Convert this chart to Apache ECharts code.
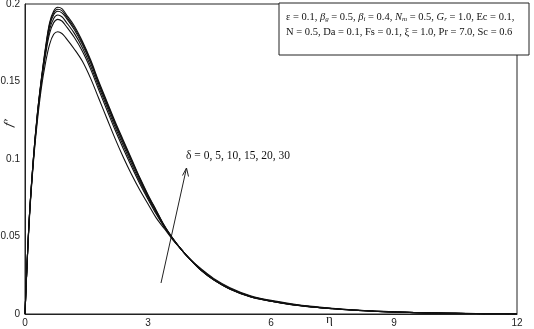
<!DOCTYPE html>
<html><head><meta charset="utf-8">
<script src="https://cdn.jsdelivr.net/npm/echarts@6/dist/echarts.min.js"></script>
<style>html,body{margin:0;padding:0;background:#fff}#c{width:534px;height:329px}</style>
</head><body><div id="c"></div>
<script>
var eta = [0,0.1,0.2,0.3,0.4,0.5,0.6,0.7,0.8,0.9,1.0,1.2,1.4,1.6,1.8,2.0,2.2,2.4,2.6,2.8,3.0,3.2,3.4,3.6,3.8,4.0,4.3,4.6,5.0,5.5,6.0,6.5,7.0,7.5,8.0,8.5,9.0,9.5,10,10.5,11,11.5,12];
var delta0  = [0,0.058,0.096,0.124,0.146,0.162,0.174,0.1805,0.1821,0.181,0.178,0.171,0.163,0.152,0.139,0.126,0.113,0.101,0.090,0.080,0.071,0.062,0.055,0.048,0.042,0.036,0.029,0.023,0.017,0.0118,0.0088,0.0066,0.0049,0.0037,0.0027,0.0020,0.0014,0.0010,0.0007,0.0005,0.0003,0.0002,0.0001];
var delta5  = [0,0.059,0.0975,0.1265,0.149,0.167,0.181,0.188,0.1901,0.189,0.1858,0.1785,0.1695,0.158,0.1445,0.1315,0.1185,0.1065,0.095,0.084,0.074,0.0645,0.056,0.0485,0.042,0.036,0.0285,0.0225,0.0165,0.0114,0.0085,0.0063,0.0047,0.0035,0.0026,0.0019,0.00135,0.00095,0.00065,0.00045,0.0003,0.0002,0.0001];
var delta10 = [0,0.0594,0.098,0.1274,0.1502,0.1688,0.1835,0.1907,0.1929,0.1918,0.1885,0.1812,0.1718,0.160,0.1465,0.1335,0.1205,0.1085,0.0968,0.0855,0.075,0.0654,0.0562,0.0487,0.042,0.036,0.0283,0.0223,0.0163,0.0113,0.0084,0.0062,0.0046,0.0035,0.0026,0.0018,0.0013,0.0009,0.0006,0.0004,0.0003,0.0002,0.0001];
var delta15 = [0,0.0597,0.0985,0.1282,0.151,0.170,0.1858,0.1931,0.1953,0.1943,0.1912,0.1836,0.1738,0.162,0.1482,0.1352,0.1222,0.1102,0.0984,0.0868,0.076,0.0662,0.0566,0.0488,0.042,0.036,0.0282,0.0222,0.0162,0.0112,0.0083,0.0061,0.0046,0.0034,0.0025,0.0018,0.0013,0.0009,0.0006,0.0004,0.0003,0.0002,0.0001];
var delta20 = [0,0.0598,0.0988,0.1286,0.1515,0.171,0.187,0.1943,0.1966,0.1957,0.1923,0.1848,0.175,0.163,0.1491,0.1361,0.1231,0.1111,0.0992,0.0874,0.0765,0.0666,0.0568,0.0489,0.042,0.036,0.0281,0.0221,0.0161,0.0111,0.0082,0.0060,0.0045,0.0034,0.0025,0.0018,0.0013,0.0009,0.0006,0.0004,0.0003,0.0002,0.0001];
var delta30 = [0,0.060,0.099,0.129,0.152,0.172,0.188,0.1955,0.1979,0.197,0.1935,0.186,0.176,0.164,0.150,0.137,0.124,0.112,0.100,0.088,0.077,0.067,0.057,0.049,0.042,0.036,0.028,0.022,0.016,0.011,0.0082,0.0060,0.0045,0.0034,0.0025,0.0018,0.0013,0.0009,0.0006,0.0004,0.0003,0.0002,0.0001];
var seriesNames = ['δ = 0','δ = 5','δ = 10','δ = 15','δ = 20','δ = 30'];
var seriesData = [delta0, delta5, delta10, delta15, delta20, delta30];

var chart = echarts.init(document.getElementById('c'), null, {renderer:'canvas'});
var series = seriesData.map(function(d,i){
  return {
    name: seriesNames[i], type:'line', showSymbol:false, smooth:0.35, animation:false,
    data: eta.map(function(x,j){return [x,d[j]];}),
    lineStyle:{color:'#111', width:1.1}
  };
});
var lblFont = {fontFamily:'Liberation Sans, Arial, sans-serif', fontSize:10, color:'#222'};
chart.setOption({
  animation:false,
  grid:{left:25, right:17, top:4, bottom:15, outerBoundsMode:'none', containLabel:false, show:true, borderColor:'#222', borderWidth:1},
  xAxis:{type:'value', min:0, max:12, interval:3,
    axisLine:{show:true, lineStyle:{color:'#222'}}, axisTick:{show:false}, splitLine:{show:false},
    axisLabel:Object.assign({margin:4}, lblFont)
  },
  yAxis:{type:'value', min:0, max:0.2, interval:0.05,
    axisLine:{show:true, lineStyle:{color:'#222'}}, axisTick:{show:false}, splitLine:{show:false},
    axisLabel:Object.assign({margin:5, formatter:function(v){return String(+v.toFixed(2));}}, lblFont)
  },
  series: series,
  graphic:[
    {type:'text', x:2, y:125, rotation:Math.PI/2*0.85, z:20, style:{text:'f′', font:'italic 13px Liberation Serif, serif', fill:'#222', textVerticalAlign:'top', textAlign:'left'}},
    {type:'text', x:326, y:313, z:20, style:{text:'η', font:'13px Liberation Serif, serif', fill:'#222', textVerticalAlign:'top', textAlign:'left'}},
    {type:'rect', shape:{x:279, y:3, width:250, height:52}, style:{fill:'#fff', stroke:'#222', lineWidth:1}, z:10},
    {type:'text', x:286, y:11, z:11, style:{
      text:'ε = 0.1, {i|β}{s|g} = 0.5, {i|β}{s|i} = 0.4, {i|N}{s|m} = 0.5, {i|G}{s|r} = 1.0, Ec = 0.1,',
      font:'10.5px Liberation Serif, serif', fill:'#111',
      rich:{i:{fontStyle:'italic', fontSize:10.5, fontFamily:'Liberation Serif, serif'}, s:{fontStyle:'italic', fontSize:7, fontFamily:'Liberation Serif, serif', padding:[5,0,0,0]}}
    }},
    {type:'text', x:286, y:27, z:11, style:{
      text:'N = 0.5, Da = 0.1, Fs = 0.1, ξ = 1.0, Pr = 7.0, Sc = 0.6',
      font:'10.5px Liberation Serif, serif', fill:'#111'
    }},
    {type:'text', x:186, y:150, z:11, style:{
      text:'δ = 0, 5, 10, 15, 20, 30', font:'11.5px Liberation Serif, serif', fill:'#111'
    }},
    {type:'line', shape:{x1:161, y1:283, x2:186.5, y2:168}, style:{stroke:'#222', lineWidth:1}},
    {type:'polyline', shape:{points:[[182.5,175.5],[186.5,168],[188.5,176.5]]}, style:{stroke:'#222', lineWidth:1, fill:null}}
  ]
});
</script></body></html>
